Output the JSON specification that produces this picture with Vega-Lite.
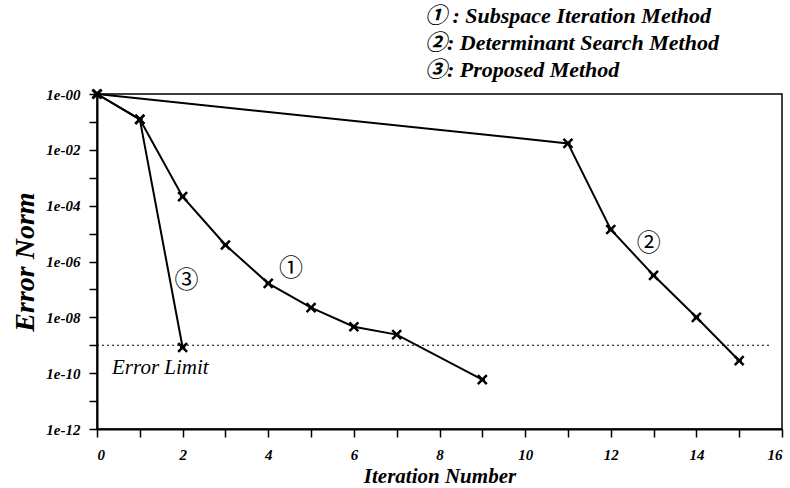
{
  "$schema": "https://vega.github.io/schema/vega-lite/v6.json",
  "width": 685,
  "height": 335,
  "autosize": {"type": "none"},
  "padding": {"left": 97, "top": 94, "right": 8, "bottom": 59},
  "background": "white",
  "config": {
    "view": {"stroke": "black", "strokeWidth": 1.5},
    "axis": {
      "grid": false,
      "domainColor": "black",
      "domainWidth": 2,
      "tickColor": "black",
      "tickWidth": 1.5,
      "tickSize": 8,
      "labelFont": "Liberation Serif",
      "labelFontStyle": "italic",
      "labelFontWeight": "bold",
      "labelFontSize": 15,
      "labelColor": "black",
      "titleFont": "Liberation Serif",
      "titleFontStyle": "italic",
      "titleFontWeight": "bold",
      "titleColor": "black"
    }
  },
  "datasets": {
    "series": [
      {"method": "Subspace Iteration Method", "iter": 0, "err": 1},
      {"method": "Subspace Iteration Method", "iter": 1, "err": 0.124},
      {"method": "Subspace Iteration Method", "iter": 2, "err": 2.1e-4},
      {"method": "Subspace Iteration Method", "iter": 3, "err": 3.9e-6},
      {"method": "Subspace Iteration Method", "iter": 4, "err": 1.65e-7},
      {"method": "Subspace Iteration Method", "iter": 5, "err": 2.24e-8},
      {"method": "Subspace Iteration Method", "iter": 6, "err": 4.6e-9},
      {"method": "Subspace Iteration Method", "iter": 7, "err": 2.4e-9},
      {"method": "Subspace Iteration Method", "iter": 9, "err": 5.9e-11},
      {"method": "Determinant Search Method", "iter": 0, "err": 1},
      {"method": "Determinant Search Method", "iter": 11, "err": 1.7e-2},
      {"method": "Determinant Search Method", "iter": 12, "err": 1.4e-5},
      {"method": "Determinant Search Method", "iter": 13, "err": 3.2e-7},
      {"method": "Determinant Search Method", "iter": 14, "err": 1e-8},
      {"method": "Determinant Search Method", "iter": 15, "err": 2.8e-10},
      {"method": "Proposed Method", "iter": 0, "err": 1},
      {"method": "Proposed Method", "iter": 1, "err": 0.124},
      {"method": "Proposed Method", "iter": 2, "err": 8.3e-10}
    ],
    "tags": [
      {"tag": "①", "iter": 4.53, "err": 5.6e-7},
      {"tag": "②", "iter": 12.89, "err": 4.2e-6},
      {"tag": "③", "iter": 2.09, "err": 2e-7}
    ],
    "limit": [
      {"iter": 0, "iter2": 15.7, "err": 1e-9, "label": "Error Limit", "lx": 0.35, "ly": 1.5e-10}
    ]
  },
  "layer": [
    {
      "data": {"name": "limit"},
      "mark": {"type": "rule", "color": "black", "strokeWidth": 1, "strokeDash": [2, 3]},
      "encoding": {
        "x": {"field": "iter", "type": "quantitative", "scale": {"domain": [0, 16], "nice": false}},
        "x2": {"field": "iter2"},
        "y": {"field": "err", "type": "quantitative", "scale": {"type": "log", "domain": [1e-12, 1], "nice": false}}
      }
    },
    {
      "data": {"name": "limit"},
      "mark": {"type": "text", "align": "left", "baseline": "middle", "font": "Liberation Serif", "fontStyle": "italic", "fontSize": 21, "color": "black"},
      "encoding": {
        "x": {"field": "lx", "type": "quantitative"},
        "y": {"field": "ly", "type": "quantitative"},
        "text": {"field": "label"}
      }
    },
    {
      "data": {"name": "series"},
      "mark": {"type": "line", "strokeWidth": 2},
      "encoding": {
        "x": {
          "field": "iter", "type": "quantitative",
          "scale": {"domain": [0, 16], "nice": false},
          "axis": {
            "values": [0,1,2,3,4,5,6,7,8,9,10,11,12,13,14,15,16],
            "labelExpr": "datum.value % 2 == 0 ? datum.label : ''",
            "labelPadding": 10,
            "title": "Iteration Number",
            "titleFontSize": 21,
            "titlePadding": 3
          }
        },
        "y": {
          "field": "err", "type": "quantitative",
          "scale": {"type": "log", "domain": [1e-12, 1], "nice": false},
          "axis": {
            "values": [1, 0.1, 0.01, 0.001, 1e-4, 1e-5, 1e-6, 1e-7, 1e-8, 1e-9, 1e-10, 1e-11, 1e-12],
            "labelExpr": "(round(-log(datum.value)/LN10) % 2 == 0) ? ('1e-' + (round(-log(datum.value)/LN10) < 10 ? '0' : '') + round(-log(datum.value)/LN10)) : ''",
            "labelPadding": 9,
            "title": "Error Norm",
            "titleFontSize": 28,
            "titlePadding": 6
          }
        },
        "color": {
          "field": "method", "type": "nominal",
          "scale": {"domain": ["Subspace Iteration Method", "Determinant Search Method", "Proposed Method"], "range": ["black", "black", "black"]},
          "legend": {
            "orient": "none",
            "legendX": 306,
            "legendY": -89,
            "title": null,
            "symbolSize": 0,
            "symbolOpacity": 0,
            "symbolStrokeWidth": 0,
            "labelOffset": 0,
            "labelFont": "Liberation Serif, Noto Sans CJK JP",
            "labelFontStyle": "italic",
            "labelFontWeight": "bold",
            "labelFontSize": 22,
            "labelColor": "black",
            "rowPadding": 5,
            "labelLimit": 400,
            "labelExpr": "datum.label == 'Subspace Iteration Method' ? '① : Subspace Iteration Method' : datum.label == 'Determinant Search Method' ? '②: Determinant Search Method' : '③: Proposed Method'"
          }
        },
        "detail": {"field": "method"},
        "order": {"field": "iter"}
      }
    },
    {
      "data": {"name": "series"},
      "mark": {"type": "point", "shape": "M-1,-1L1,1M1,-1L-1,1M-0.6,0L0.6,0", "filled": false, "stroke": "black", "strokeWidth": 2.5, "size": 80, "opacity": 1},
      "encoding": {
        "x": {"field": "iter", "type": "quantitative"},
        "y": {"field": "err", "type": "quantitative"}
      }
    },
    {
      "data": {"name": "tags"},
      "mark": {"type": "text", "font": "Noto Sans CJK JP", "fontSize": 24, "color": "black", "align": "center", "baseline": "middle"},
      "encoding": {
        "x": {"field": "iter", "type": "quantitative"},
        "y": {"field": "err", "type": "quantitative"},
        "text": {"field": "tag"}
      }
    }
  ]
}
